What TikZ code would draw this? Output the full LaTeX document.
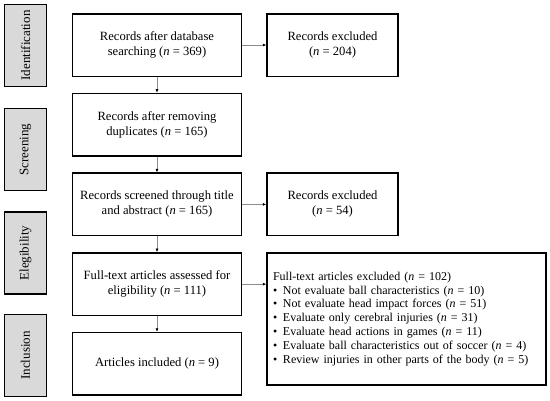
\documentclass[tikz,border=0pt]{standalone}
\usepackage{fontspec}
\setmainfont{Liberation Serif}
\usetikzlibrary{positioning,arrows.meta,calc}

\begin{document}
\begin{tikzpicture}[
  x = 1pt, y = 1pt,
  node distance = 15.7pt and 24pt,
  font          = \fontsize{12.6}{15}\selectfont,
  every node/.style = {align=center},
  stagebox/.style = {draw, fill=black!15, line width=1.6pt, rotate=90,
                     minimum width=82pt, minimum height=42pt, inner sep=2pt,
                     font=\fontsize{13}{15}\selectfont},
  mainbox/.style  = {draw, fill=white, line width=1.5pt, inner sep=3pt,
                     minimum width=169pt, minimum height=62.5pt},
  exbox/.style    = {mainbox, minimum width=131pt},
  listbox/.style  = {draw, fill=white, line width=1.5pt, inner xsep=6pt,
                     text width=267pt, align=left, minimum height=132pt,
                     font=\fontsize{12}{13.8}\selectfont},
  flow/.style     = {draw=black!45, line width=0.6pt,
                     -{Latex[length=3.5pt, width=3pt, color=black]}},
]
\useasboundingbox (0,0) rectangle (550,-400);

% Left column: stages
\node[stagebox] (s1) at (25.5,-45.5)  {Identification};
\node[stagebox] (s2) at (25.5,-149.5) {Screening};
\node[stagebox] (s3) at (25.5,-253)   {Elegibility};
\node[stagebox] (s4) at (25.5,-355.5) {Inclusion};

% Middle column: records kept
\node[mainbox] (m1) at (157,-45)   {Records after database\\searching (\textit{n} = 369)};
\node[mainbox, below=of m1] (m2)   {Records after removing\\duplicates (\textit{n} = 165)};
\node[mainbox, below=of m2] (m3)   {Records screened through title\\and abstract (\textit{n} = 165)};
\node[mainbox, below=of m3] (m4)   {Full-text articles assessed for\\eligibility (\textit{n} = 111)};
\node[mainbox, below=of m4] (m5)   {Articles included (\textit{n} = 9)};

% Right column: records excluded
\node[exbox, right=of m1] (x1)     {Records excluded\\(\textit{n} = 204)};
\node[exbox, right=of m3] (x2)     {Records excluded\\(\textit{n} = 54)};
\node[listbox, below right=0pt and 24pt of m4.north east] (x3) {%
  Full-text articles excluded (\textit{n} = 102)\\
  \makebox[10pt][l]{\textbullet}Not evaluate ball characteristics (\textit{n} = 10)\\
  \makebox[10pt][l]{\textbullet}Not evaluate head impact forces (\textit{n} = 51)\\
  \makebox[10pt][l]{\textbullet}Evaluate only cerebral injuries (\textit{n} = 31)\\
  \makebox[10pt][l]{\textbullet}Evaluate head actions in games (\textit{n} = 11)\\
  \makebox[10pt][l]{\textbullet}Evaluate ball characteristics out of soccer (\textit{n} = 4)\\
  \makebox[10pt][l]{\textbullet}Review injuries in other parts of the body (\textit{n} = 5)};

% Flow down
\draw[flow] (m1.south) -- (m2.north);
\draw[flow] (m2.south) -- (m3.north);
\draw[flow] (m3.south) -- (m4.north);
\draw[flow] (m4.south) -- (m5.north);

% Exclusions
\draw[flow] (m1.east) -- (x1.west);
\draw[flow] (m3.east) -- (x2.west);
\draw[flow] (m4.east) -- (m4.east -| x3.west);

\end{tikzpicture}
\end{document}
